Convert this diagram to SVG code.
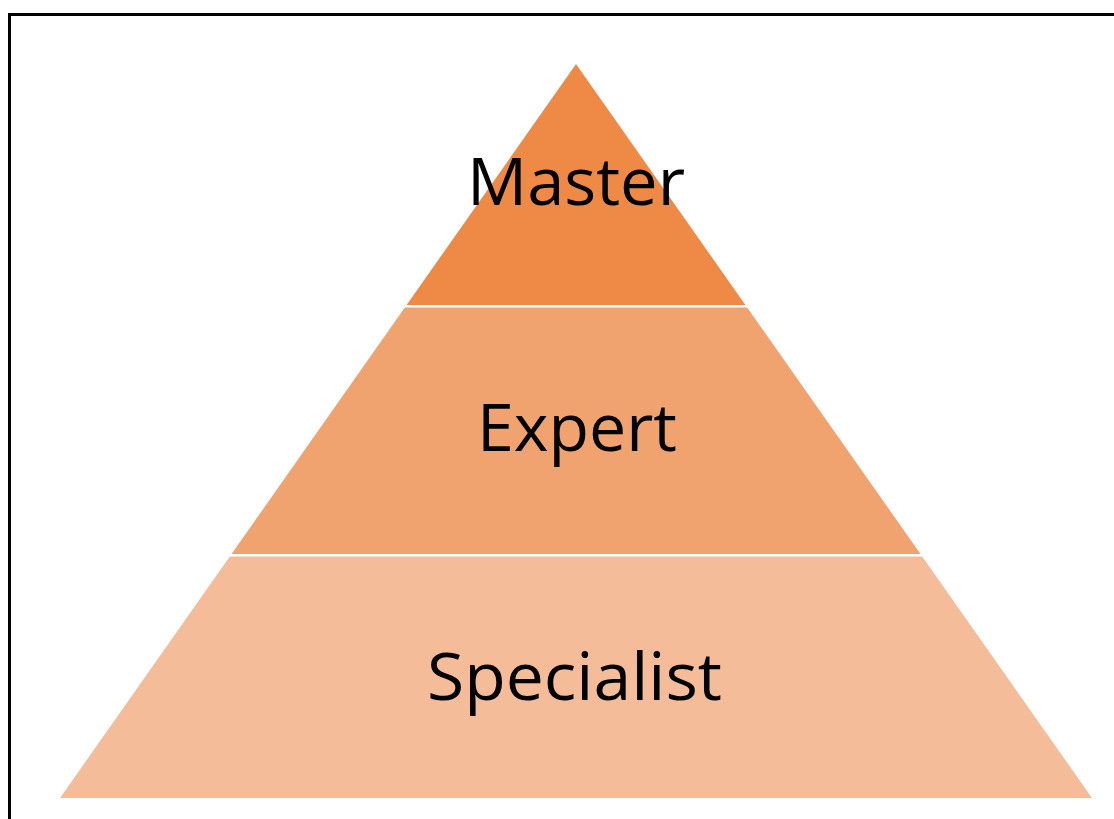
<svg xmlns="http://www.w3.org/2000/svg" width="1114" height="819" viewBox="0 0 1114 819">
  <style>
    .lbl { font-family: "Open Sans", "Noto Sans", "Liberation Sans", sans-serif; font-size: 65px; fill: #000; text-anchor: middle; }
    .frame { fill: none; stroke: #000; stroke-width: 3; }
  </style>
  <rect x="0" y="0" width="1114" height="819" fill="#fff"/>
  <rect class="frame" x="9.5" y="14.5" width="1200" height="900"/>
  <g id="master">
    <polygon points="576,64 745.4,305 406.6,305" fill="#EE8A46"/>
    <text class="lbl" x="576" y="205" textLength="218" lengthAdjust="spacingAndGlyphs">Master</text>
  </g>
  <g id="expert">
    <polygon points="404.8,307.5 747.2,307.5 920.5,554 231.5,554" fill="#F0A26F"/>
    <text class="lbl" x="577" y="451" textLength="200" lengthAdjust="spacingAndGlyphs">Expert</text>
  </g>
  <g id="specialist">
    <polygon points="229.8,556.5 922.2,556.5 1092,798 60,798" fill="#F5BC99"/>
    <text class="lbl" x="574.5" y="700" textLength="295" lengthAdjust="spacingAndGlyphs">Specialist</text>
  </g>
  <g id="connectors"/>
</svg>
